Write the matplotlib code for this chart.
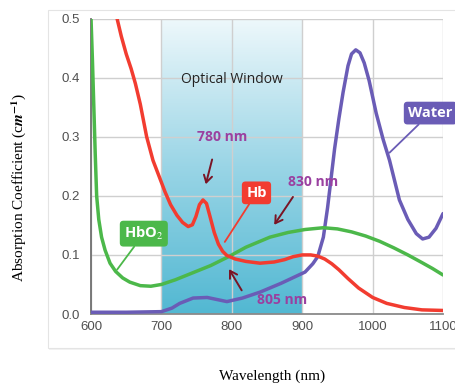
import numpy as np
import matplotlib
matplotlib.use('Agg')
import matplotlib.pyplot as plt
from matplotlib.colors import LinearSegmentedColormap
from matplotlib.patches import Rectangle

# Hb (deoxy-haemoglobin)
hb_nm = [630, 637, 643, 650, 657, 663, 670, 679, 688, 697, 705, 713, 722, 730, 738, 744,
         749, 754, 759, 764, 769, 775, 781, 787, 793, 797, 805, 820, 840, 860, 875, 887,
         900, 912, 922, 932, 942, 952, 965, 980, 1000, 1020, 1045, 1070, 1100]
hb_abs = [0.56, 0.50, 0.47, 0.44, 0.415, 0.39, 0.355, 0.30, 0.26, 0.232, 0.207, 0.185,
          0.167, 0.155, 0.148, 0.151, 0.165, 0.185, 0.193, 0.187, 0.165, 0.138, 0.118,
          0.106, 0.099, 0.097, 0.093, 0.089, 0.086, 0.088, 0.092, 0.097, 0.1, 0.1, 0.098,
          0.093, 0.085, 0.075, 0.06, 0.044, 0.028, 0.018, 0.011, 0.007, 0.006]

# HbO2 (oxy-haemoglobin)
hbo2_nm = [600, 602, 604, 606, 608, 611, 615, 620, 627, 635, 645, 655, 670, 685, 700, 720,
           745, 770, 797, 820, 854, 880, 904, 930, 950, 970, 990, 1010, 1030, 1050, 1070,
           1085, 1100]
hbo2_abs = [0.50, 0.43, 0.35, 0.27, 0.20, 0.16, 0.13, 0.108, 0.086, 0.072, 0.061, 0.054,
            0.048, 0.047, 0.05, 0.058, 0.07, 0.082, 0.098, 0.113, 0.13, 0.138, 0.143,
            0.146, 0.144, 0.139, 0.132, 0.123, 0.112, 0.1, 0.087, 0.077, 0.066]

# Water
water_nm = [600, 650, 700, 715, 726, 745, 765, 793, 815, 840, 870, 904, 915, 922, 930,
            936, 941, 946, 952, 958, 965, 970, 976, 982, 988, 995, 1005, 1015, 1024, 1038,
            1050, 1062, 1071, 1080, 1090, 1100]
water_abs = [0.003, 0.003, 0.004, 0.01, 0.018, 0.027, 0.028, 0.021, 0.027, 0.037, 0.052,
             0.071, 0.085, 0.097, 0.13, 0.18, 0.23, 0.28, 0.33, 0.375, 0.42, 0.44, 0.447,
             0.442, 0.425, 0.395, 0.34, 0.295, 0.26, 0.193, 0.16, 0.136, 0.127, 0.13, 0.145,
             0.17]

x_ticks = [600, 700, 800, 900, 1000, 1100]
y_ticks = [0.0, 0.1, 0.2, 0.3, 0.4, 0.5]
window = (700, 900)

RED = '#f23c30'
GREEN = '#4cb84a'
PURPLE = '#6a5cb6'
LABEL = '#9a40a0'
ARROW = '#7a1424'

plt.rcParams['mathtext.fontset'] = 'stix'

fig = plt.figure(figsize=(4.56, 3.86), dpi=100)
fig.patch.set_facecolor('white')

# light panel behind the chart
fig.patches.append(Rectangle((0.108, 0.094), 0.95, 0.875, transform=fig.transFigure,
                             fc='#f2f2f2', ec='none', zorder=-2))
fig.patches.append(Rectangle((0.105, 0.099), 0.95, 0.875, transform=fig.transFigure,
                             fc='white', ec='#e4e4e4', lw=0.8, zorder=-1))

ax = fig.add_axes([0.1996, 0.1865, 0.772, 0.7655])
ax.set_facecolor('none')
ax.set_xlim(600, 1100)
ax.set_ylim(0, 0.5)

# optical window gradient
cmap = LinearSegmentedColormap.from_list('win', ['#52b8d2', '#9ad5e6', '#eef8fb'])
grad = np.linspace(0, 1, 256).reshape(-1, 1)
ax.imshow(grad, extent=[window[0], window[1], 0, 0.5], origin='lower', cmap=cmap,
          aspect='auto', zorder=0.5)

ax.grid(True, color='#cfcfcf', lw=1.0)
ax.set_xticks(x_ticks)
ax.set_yticks(y_ticks)
ax.set_yticklabels([f'{v:.1f}' for v in y_ticks])
ax.tick_params(length=0, labelsize=9.5, labelcolor='#505050')
ax.tick_params(axis='y', pad=8)
ax.tick_params(axis='x', pad=5)
for lab in ax.get_xticklabels() + ax.get_yticklabels():
    lab.set_fontfamily('Liberation Sans')
for s in ['top', 'right']:
    ax.spines[s].set_visible(False)
ax.spines['left'].set_color('#707070')
ax.spines['bottom'].set_color('#8a8a8a')
ax.spines['left'].set_linewidth(1.3)
ax.spines['bottom'].set_linewidth(1.3)

line_kw = dict(lw=2.5, solid_capstyle='round', solid_joinstyle='round')
ax.plot(water_nm, water_abs, color=PURPLE, zorder=3, **line_kw)
ax.plot(hbo2_nm, hbo2_abs, color=GREEN, zorder=4, **line_kw)
ax.plot(hb_nm, hb_abs, color=RED, zorder=5, **line_kw)

ax.text(800, 0.397, 'Optical Window', ha='center', va='center', fontsize=10,
        family='Open Sans', color='#222222', zorder=6)

txt = dict(ha='center', va='center', fontsize=10, family='Open Sans',
           fontweight='bold', color=LABEL, zorder=6)
ax.text(786, 0.30, '780 nm', **txt)
ax.text(916, 0.224, '830 nm', **txt)
ax.text(872, 0.024, '805 nm', **txt)

arr = dict(arrowstyle='->,head_length=0.5,head_width=0.3', color=ARROW, lw=1.4)
ax.annotate('', xy=(762, 0.215), xytext=(773, 0.266), arrowprops=arr, zorder=6)
ax.annotate('', xy=(858, 0.147), xytext=(889, 0.202), arrowprops=arr, zorder=6)
ax.annotate('', xy=(794, 0.08), xytext=(816, 0.036), arrowprops=arr, zorder=6)

# callout boxes
def callout(text, xy, xytext, color):
    ax.annotate(text, xy=xy, xytext=xytext, ha='center', va='center', fontsize=10.5,
                family='Open Sans', fontweight='bold', color='white',
                bbox=dict(boxstyle='round,pad=0.3,rounding_size=0.25', fc=color, ec='none'),
                arrowprops=dict(arrowstyle='-', color=color, lw=1.3, shrinkA=0, shrinkB=0),
                annotation_clip=False, zorder=7)

callout('Hb', (790, 0.122), (835, 0.205), RED)
callout('HbO$_2$', (637, 0.075), (675, 0.136), GREEN)
callout('Water', (1024, 0.273), (1082, 0.34), PURPLE)

fig.text(0.04, 0.515, r'Absorption Coefficient (c$\mathbfit{m}^{\mathbf{-1}}$)', rotation=90,
         ha='center', va='center', fontsize=11, family='Liberation Serif')
fig.text(0.596, 0.026, 'Wavelength (nm)', ha='center', va='center', fontsize=11,
         family='Liberation Serif')

fig.savefig('out.png', dpi=100)
